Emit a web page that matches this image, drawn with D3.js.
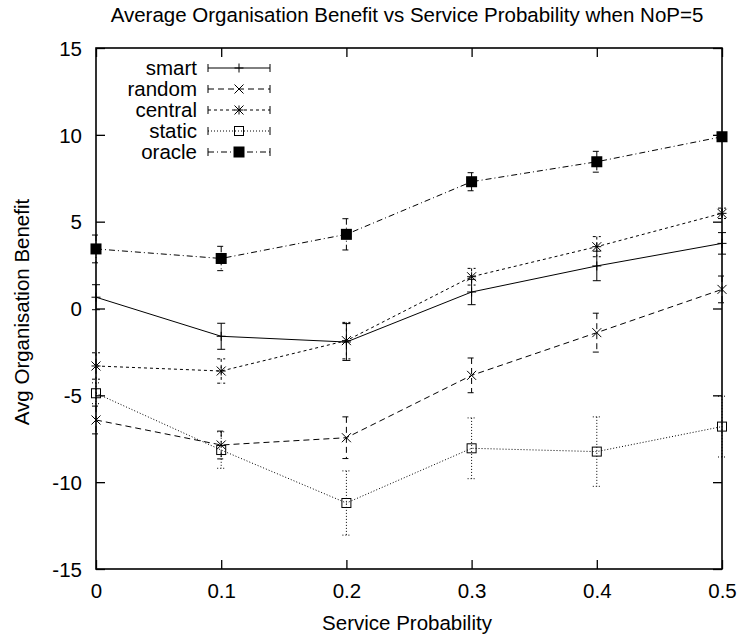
<!DOCTYPE html>
<html>
<head>
<meta charset="utf-8">
<script src="https://cdn.jsdelivr.net/npm/d3@7"></script>
<style>
  body { margin: 0; background: white; }
  svg text { font-family: "Liberation Sans", Arial, Helvetica, sans-serif; fill: black; }
</style>
</head>
<body>
<div id="chart"></div>
<script>
// chart data
const probabilities = [0, 0.1, 0.2, 0.3, 0.4, 0.5];
const seriesNames = ['smart', 'random', 'central', 'static', 'oracle'];
const smartValues   = [0.65, -1.6, -1.93, 0.95, 2.45, 3.75];
const smartErrors   = [0.72, 0.75, 1.06, 0.73, 0.85, 0.62];
const randomValues  = [-6.42, -7.86, -7.44, -3.85, -1.39, 1.1];
const randomErrors  = [0.8, 0.8, 1.2, 1.0, 1.12, 0.77];
const centralValues = [-3.31, -3.6, -1.85, 1.83, 3.56, 5.48];
const centralErrors = [0.76, 0.7, 1.05, 0.48, 0.58, 0.3];
const staticValues  = [-4.88, -8.15, -11.2, -8.05, -8.24, -6.8];
const staticErrors  = [0.6, 1.05, 1.85, 1.75, 2.0, 1.75];
const oracleValues  = [3.43, 2.88, 4.27, 7.3, 8.45, 9.89];
const oracleErrors  = [0.8, 0.7, 0.9, 0.52, 0.6, 0.15];
const xTicks = [0, 0.1, 0.2, 0.3, 0.4, 0.5];
const yTicks = [-15, -10, -5, 0, 5, 10, 15];

const width = 739, height = 637;
const margin = { top: 48, right: 17, bottom: 68, left: 96 };
const innerW = width - margin.left - margin.right;
const innerH = height - margin.top - margin.bottom;
const fontSize = '20.5px';

const x = d3.scaleLinear().domain([0, 0.5]).range([0, innerW]);
const y = d3.scaleLinear().domain([-15, 15]).range([innerH, 0]);

const styles = {
    smart:   { dash: null,       marker: 'plus' },
    random:  { dash: '6,4',      marker: 'cross' },
    central: { dash: '3,3',      marker: 'star' },
    static:  { dash: '1,2',      marker: 'box' },
    oracle:  { dash: '6,3,1,3',  marker: 'fbox' }
};

const series = [
    { name: 'smart', values: smartValues, errors: smartErrors },
    { name: 'random', values: randomValues, errors: randomErrors },
    { name: 'central', values: centralValues, errors: centralErrors },
    { name: 'static', values: staticValues, errors: staticErrors },
    { name: 'oracle', values: oracleValues, errors: oracleErrors }
];

const svg = d3.select('#chart').append('svg')
    .attr('width', width)
    .attr('height', height);

svg.append('text')
    .attr('x', 407)
    .attr('y', 22)
    .attr('text-anchor', 'middle')
    .attr('font-size', fontSize)
    .text('Average Organisation Benefit vs Service Probability when NoP=5');

const g = svg.append('g')
    .attr('transform', `translate(${margin.left},${margin.top})`);

// axes: inward ticks, mirrored on all four sides
const tickLen = 9;
const bottomAxis = d3.axisBottom(x).tickValues(xTicks).tickSizeInner(-tickLen).tickSizeOuter(0)
    .tickFormat(d => d === 0 ? '0' : d3.format('.1f')(d));
const topAxis = d3.axisTop(x).tickValues(xTicks).tickSizeInner(-tickLen).tickSizeOuter(0).tickFormat('');
const leftAxis = d3.axisLeft(y).tickValues(yTicks).tickSizeInner(-tickLen).tickSizeOuter(0)
    .tickFormat(d => d < 0 ? '-' + Math.abs(d) : String(d));
const rightAxis = d3.axisRight(y).tickValues(yTicks).tickSizeInner(-tickLen).tickSizeOuter(0).tickFormat('');

const styleAxis = sel => {
    sel.select('.domain').remove();
    sel.selectAll('line').attr('stroke', 'black').attr('stroke-width', 1.3);
    sel.selectAll('text').attr('font-size', fontSize).attr('fill', 'black')
        .attr('font-family', '"Liberation Sans", Arial, sans-serif');
};

g.append('g').attr('transform', `translate(0,${innerH})`).call(bottomAxis).call(styleAxis)
    .selectAll('text').attr('y', 29).attr('dy', null);
g.append('g').call(topAxis).call(styleAxis);
g.append('g').call(leftAxis).call(styleAxis)
    .selectAll('text').attr('x', -14).attr('dy', '0.35em');
g.append('g').attr('transform', `translate(${innerW},0)`).call(rightAxis).call(styleAxis);

g.append('rect')
    .attr('width', innerW)
    .attr('height', innerH)
    .attr('fill', 'none')
    .attr('stroke', 'black')
    .attr('stroke-width', 1.6);

svg.append('text')
    .attr('x', 407)
    .attr('y', 630)
    .attr('text-anchor', 'middle')
    .attr('font-size', fontSize)
    .text('Service Probability');

svg.append('text')
    .attr('transform', `translate(29,312) rotate(-90)`)
    .attr('text-anchor', 'middle')
    .attr('font-size', fontSize)
    .text('Avg Organisation Benefit');

function drawMarker(sel, type, cx, cy) {
    const s = 4.5;
    const path = d3.path();
    if (type === 'plus' || type === 'star') {
        path.moveTo(cx - s, cy); path.lineTo(cx + s, cy);
        path.moveTo(cx, cy - s); path.lineTo(cx, cy + s);
    }
    if (type === 'cross' || type === 'star') {
        path.moveTo(cx - s, cy - s); path.lineTo(cx + s, cy + s);
        path.moveTo(cx - s, cy + s); path.lineTo(cx + s, cy - s);
    }
    if (type === 'plus' || type === 'cross' || type === 'star') {
        sel.append('path').attr('d', path.toString())
            .attr('stroke', 'black').attr('stroke-width', 1).attr('fill', 'none');
    } else if (type === 'box') {
        sel.append('rect').attr('x', cx - s).attr('y', cy - s)
            .attr('width', 2 * s).attr('height', 2 * s)
            .attr('fill', 'none').attr('stroke', 'black').attr('stroke-width', 1);
    } else if (type === 'fbox') {
        sel.append('rect').attr('x', cx - 5.5).attr('y', cy - 5.5)
            .attr('width', 11).attr('height', 11)
            .attr('fill', 'black');
    }
}

const line = d3.line()
    .x((d, i) => x(probabilities[i]))
    .y(d => y(d));

const capW = 4;
series.forEach(s => {
    const st = styles[s.name];
    const sg = g.append('g').attr('class', 'series-' + s.name);

    sg.append('path')
        .datum(s.values)
        .attr('d', line)
        .attr('fill', 'none')
        .attr('stroke', 'black')
        .attr('stroke-width', 1)
        .attr('stroke-dasharray', st.dash);

    // error bars
    const eb = sg.selectAll('g.err')
        .data(s.values.map((v, i) => ({ x: probabilities[i], v: v, e: s.errors[i] })))
        .enter().append('g').attr('class', 'err')
        .attr('stroke', 'black').attr('stroke-width', 1)
        .attr('stroke-dasharray', st.dash);
    eb.append('line')
        .attr('x1', d => x(d.x)).attr('x2', d => x(d.x))
        .attr('y1', d => y(d.v + d.e)).attr('y2', d => y(d.v - d.e));
    eb.append('line')
        .attr('x1', d => x(d.x) - capW).attr('x2', d => x(d.x) + capW)
        .attr('y1', d => y(d.v + d.e)).attr('y2', d => y(d.v + d.e));
    eb.append('line')
        .attr('x1', d => x(d.x) - capW).attr('x2', d => x(d.x) + capW)
        .attr('y1', d => y(d.v - d.e)).attr('y2', d => y(d.v - d.e));

    s.values.forEach((v, i) => drawMarker(sg, st.marker, x(probabilities[i]), y(v)));
});

// legend
const legend = svg.append('g').attr('class', 'legend');
const legX1 = 208, legX2 = 270, legY0 = 68, legStep = 21;
seriesNames.forEach((name, i) => {
    const st = styles[name];
    const ly = legY0 + i * legStep;
    const lg = legend.append('g');
    lg.append('text')
        .attr('x', 197).attr('y', ly)
        .attr('dy', '0.35em')
        .attr('text-anchor', 'end')
        .attr('font-size', fontSize)
        .text(name);
    lg.append('line')
        .attr('x1', legX1).attr('x2', legX2).attr('y1', ly).attr('y2', ly)
        .attr('stroke', 'black').attr('stroke-width', 1)
        .attr('stroke-dasharray', st.dash);
    [legX1, legX2].forEach(cx => {
        lg.append('line')
            .attr('x1', cx).attr('x2', cx).attr('y1', ly - 4).attr('y2', ly + 4)
            .attr('stroke', 'black').attr('stroke-width', 1);
    });
    drawMarker(lg, st.marker, (legX1 + legX2) / 2, ly);
});
</script>
</body>
</html>
